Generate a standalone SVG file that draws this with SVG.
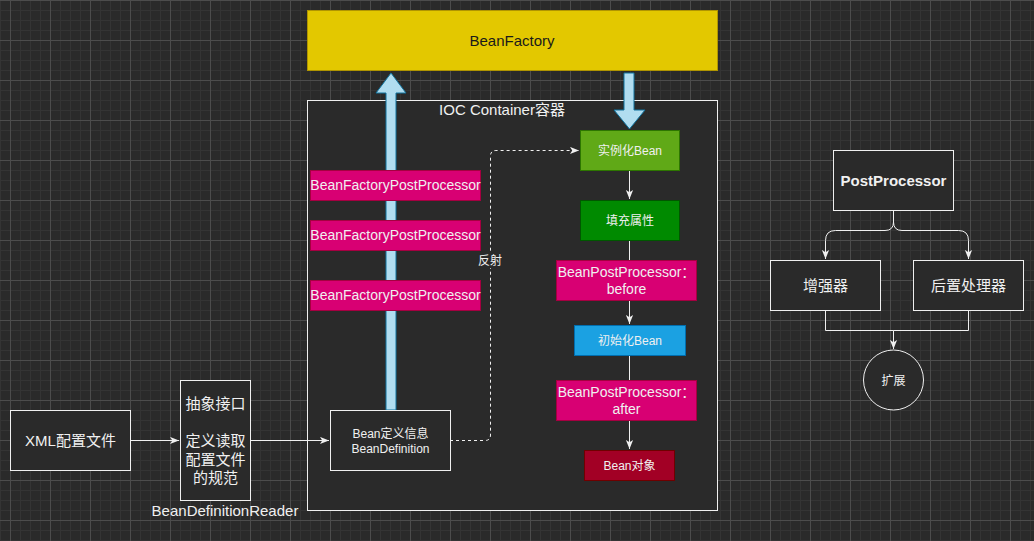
<svg xmlns="http://www.w3.org/2000/svg" width="1034" height="541" viewBox="0 0 1034 541">
<defs>
<pattern id="grid" x="10" y="0" width="40" height="40" patternUnits="userSpaceOnUse">
<rect width="40" height="40" fill="#2a2a2a"/>
<path d="M10.5,0V40M20.5,0V40M30.5,0V40M0,10.5H40M0,20.5H40M0,30.5H40" stroke="#343434" stroke-width="1" fill="none"/>
<path d="M0.5,0V40M0,0.5H40" stroke="#4c4c4c" stroke-width="1" fill="none"/>
</pattern>
<marker id="arr" viewBox="0 0 10 8" refX="10" refY="4" markerWidth="9" markerHeight="8" markerUnits="userSpaceOnUse" orient="auto">
<path d="M0,0 L10,4 L0,8 L2.5,4 Z" fill="#f0f0f0"/>
</marker>
<style>
text{font-family:"Liberation Sans","Noto Sans CJK SC",sans-serif;fill:#f0f0f0;text-anchor:middle}
.t15{font-size:15px}
.t14{font-size:14px}
.t12{font-size:12px}
.wbox{fill:#2a2a2a;stroke:#f0f0f0;stroke-width:1}
.pink{fill:#d80073;stroke:#a50040}
.line{fill:none;stroke:#f0f0f0;stroke-width:1}
.dash{fill:none;stroke:#f0f0f0;stroke-width:1;stroke-dasharray:3 3}
.barrow{fill:#b1ddf0;stroke:#10739e;stroke-width:1}
</style>
</defs>
<rect width="1034" height="541" fill="url(#grid)"/>

<g id="ioc-container">
<rect x="307.5" y="100.5" width="410" height="410" class="wbox"/>
<text x="502" y="115" class="t15">IOC Container容器</text>
</g>

<g id="beanfactory">
<rect x="307.5" y="10.5" width="410" height="60" fill="#e3c800" stroke="#b09500"/>
<text x="512" y="46" class="t15" style="fill:#1a1a1a">BeanFactory</text>
</g>

<g id="connectors">
<polygon class="barrow" points="391,73 406,93 396,93 396,410 386,410 386,93 376,93"/>
<polygon class="barrow" points="624,73 634,73 634,110 645,110 629.5,129 614,110 624,110"/>
<path class="line" d="M130,440.5H179" marker-end="url(#arr)"/>
<path class="line" d="M250,440.5H329" marker-end="url(#arr)"/>
<path class="dash" d="M450,440.5H485Q490.5,440.5 490.5,435V156Q490.5,150.5 496,150.5H579" marker-end="url(#arr)"/>
<path class="line" d="M629.5,170V199" marker-end="url(#arr)"/>
<path class="line" d="M629.5,240V324" marker-end="url(#arr)"/>
<path class="line" d="M629.5,355V449" marker-end="url(#arr)"/>
<path class="line" d="M893.5,210V222Q893.5,230.5 885,230.5H835.5Q825.5,230.5 825.5,240.5V259" marker-end="url(#arr)"/>
<path class="line" d="M893.5,210V222Q893.5,230.5 902,230.5H958.5Q968.5,230.5 968.5,240.5V259" marker-end="url(#arr)"/>
<path class="line" d="M825.5,310V330.5H893.5V349" marker-end="url(#arr)"/>
<path class="line" d="M968.5,310V330.5H893.5"/>
<rect x="477" y="253" width="26" height="15" fill="#2a2a2a"/>
<text x="490" y="265" class="t12">反射</text>
</g>

<g id="bfpp1">
<rect x="310.5" y="170.5" width="170" height="30" class="pink"/>
<text x="395.5" y="190" class="t14">BeanFactoryPostProcessor</text>
</g>
<g id="bfpp2">
<rect x="310.5" y="220.5" width="170" height="30" class="pink"/>
<text x="395.5" y="240" class="t14">BeanFactoryPostProcessor</text>
</g>
<g id="bfpp3">
<rect x="310.5" y="280.5" width="170" height="30" class="pink"/>
<text x="395.5" y="300" class="t14">BeanFactoryPostProcessor</text>
</g>

<g id="instantiate">
<rect x="580.5" y="130.5" width="99" height="40" fill="#60a917" stroke="#2d7600"/>
<text x="630" y="154.5" class="t12">实例化Bean</text>
</g>
<g id="populate">
<rect x="580.5" y="200.5" width="99" height="40" fill="#008a00" stroke="#005700"/>
<text x="630" y="224.5" class="t12">填充属性</text>
</g>
<g id="bpp-before">
<rect x="556.5" y="260.5" width="140" height="40" class="pink"/>
<text x="626.5" y="277" class="t14">BeanPostProcessor：</text>
<text x="626.5" y="294" class="t14">before</text>
</g>
<g id="init">
<rect x="574.5" y="325.5" width="111" height="30" fill="#1ba1e2" stroke="#006eaf"/>
<text x="630" y="344.5" class="t12">初始化Bean</text>
</g>
<g id="bpp-after">
<rect x="556.5" y="380.5" width="140" height="40" class="pink"/>
<text x="626.5" y="397" class="t14">BeanPostProcessor：</text>
<text x="626.5" y="414" class="t14">after</text>
</g>
<g id="bean-object">
<rect x="584.5" y="450.5" width="90" height="30" fill="#a20025" stroke="#6f0000"/>
<text x="629.5" y="469.5" class="t12">Bean对象</text>
</g>

<g id="xml">
<rect x="10.5" y="410.5" width="120" height="60" class="wbox"/>
<text x="70.5" y="446" class="t15">XML配置文件</text>
</g>
<g id="reader">
<rect x="180.5" y="380.5" width="70" height="120" class="wbox"/>
<text x="215.5" y="409" class="t15">抽象接口</text>
<text x="215.5" y="446" class="t15">定义读取</text>
<text x="215.5" y="464.5" class="t15">配置文件</text>
<text x="215.5" y="483" class="t15">的规范</text>
<text x="225" y="516" class="t15">BeanDefinitionReader</text>
</g>
<g id="beandefinition">
<rect x="330.5" y="410.5" width="120" height="60" class="wbox"/>
<text x="390.5" y="437.5" class="t12">Bean定义信息</text>
<text x="390.5" y="452.5" class="t12">BeanDefinition</text>
</g>

<g id="postprocessor">
<rect x="833.5" y="150.5" width="120" height="60" class="wbox"/>
<text x="893.5" y="186" class="t15" style="font-weight:bold">PostProcessor</text>
</g>
<g id="enhancer">
<rect x="770.5" y="260.5" width="110" height="50" class="wbox"/>
<text x="825.5" y="291" class="t15">增强器</text>
</g>
<g id="post-handler">
<rect x="913.5" y="260.5" width="110" height="50" class="wbox"/>
<text x="968.5" y="291" class="t15">后置处理器</text>
</g>
<g id="extend">
<circle cx="893.5" cy="380" r="30" class="wbox"/>
<text x="893.5" y="384.5" class="t12">扩展</text>
</g>
</svg>
